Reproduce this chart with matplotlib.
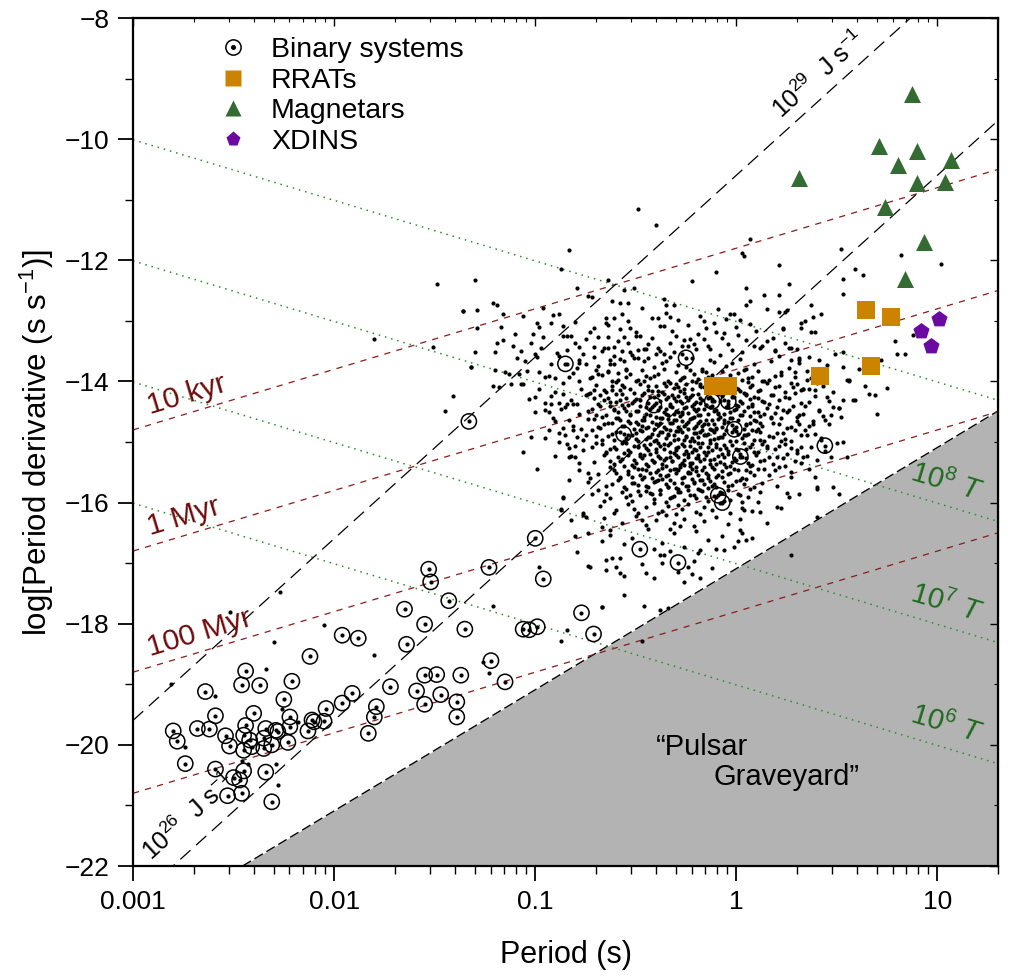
import numpy as np
import matplotlib
matplotlib.use('Agg')
import matplotlib.pyplot as plt
from matplotlib.legend_handler import HandlerTuple
from matplotlib.lines import Line2D

plt.rcParams['font.family'] = ['Liberation Sans', 'DejaVu Sans']
plt.rcParams['mathtext.fontset'] = 'custom'
plt.rcParams['mathtext.rm'] = 'Liberation Sans'
plt.rcParams['mathtext.it'] = 'Liberation Sans:italic'
plt.rcParams['mathtext.default'] = 'regular'

# ---------------- data (log10 P [s], log10 Pdot) ----------------
rrat_logP = [-0.116, -0.041, 0.418, 0.647, 0.670, 0.770]
rrat_logPdot = [-14.08, -14.08, -13.91, -12.82, -13.74, -12.94]

magnetar_logP = [0.871, 0.708, 0.900, 0.804, 1.068, 0.312, 0.900, 1.036, 0.740, 0.934, 0.841]
magnetar_logPdot = [-9.25, -10.11, -10.19, -10.42, -10.35, -10.64, -10.72, -10.71, -11.12, -11.69, -12.31]

xdins_logP = [1.008, 0.919, 0.970]
xdins_logPdot = [-12.97, -13.17, -13.41]

binaries = [
    (-1.96, -18.19), (-1.88, -18.24), (-2.12, -18.54), (-2.44, -18.78), (-2.46, -19.01),
    (-2.37, -19.02), (-2.21, -18.95), (-2.64, -19.12), (-2.25, -19.25), (-2.40, -19.48),
    (-2.59, -19.52), (-1.91, -19.15), (-1.96, -19.31), (-2.04, -19.40), (-1.79, -19.37),
    (-1.80, -19.54), (-2.22, -19.54), (-2.44, -19.68), (-2.34, -19.73), (-2.29, -19.76),
    (-2.22, -19.70), (-2.11, -19.59), (-2.10, -19.62), (-2.05, -19.61), (-2.80, -19.77),
    (-2.78, -19.94), (-2.68, -19.73), (-2.62, -19.74), (-2.54, -19.85), (-2.52, -20.02),
    (-2.45, -19.84), (-2.42, -19.92), (-2.41, -20.03), (-2.45, -20.09), (-2.35, -19.89),
    (-2.31, -20.00), (-2.35, -20.06), (-2.28, -19.78), (-2.23, -19.96), (-2.13, -19.77),
    (-1.83, -19.81), (-2.74, -20.31), (-2.59, -20.40), (-2.45, -20.43), (-2.50, -20.54),
    (-2.47, -20.58), (-2.34, -20.45), (-2.53, -20.84), (-2.46, -20.80), (-2.31, -20.94),
    (-1.33, -14.66), (-1.00, -16.59), (-1.53, -17.10), (-1.52, -17.31), (-1.23, -17.07),
    (-0.96, -17.26), (-1.43, -17.62), (-1.65, -17.76), (-1.55, -18.01), (-1.35, -18.09),
    (-1.64, -18.34), (-1.06, -18.09), (-1.03, -18.10), (-0.99, -18.05), (-0.77, -17.82),
    (-0.71, -18.17), (-1.22, -18.61), (-1.55, -18.85), (-1.49, -18.84), (-1.37, -18.85),
    (-1.15, -18.96), (-1.72, -19.04), (-1.59, -19.11), (-1.47, -19.17), (-1.55, -19.33),
    (-1.39, -19.29), (-1.39, -19.54),
    (-0.85, -13.71), (-0.25, -13.61), (-0.12, -14.33), (-0.04, -14.33), (-0.41, -14.39),
    (-0.56, -14.87), (-0.01, -14.79), (0.02, -15.24), (0.44, -15.06), (-0.09, -15.88),
    (-0.07, -16.00), (-0.48, -16.77), (-0.29, -16.99),
]

pulsars_outer = [
    (-0.49, -11.16), (-0.40, -11.41), (-0.83, -11.83), (-0.87, -12.14), (-1.30, -12.33), (-0.64, -12.33),
    (-0.10, -12.20), (-0.22, -12.35), (-0.79, -12.46), (-0.56, -12.49), (-0.51, -12.45), (-0.74, -12.59),
    (-0.72, -12.61), (-0.62, -12.67), (-0.58, -12.70), (-0.54, -12.70), (-0.36, -12.64), (-0.35, -12.74),
    (-0.31, -12.74), (-0.09, -12.80), (-0.03, -12.89), (-0.01, -12.89), (-1.36, -12.83), (-1.29, -12.82),
    (-1.21, -12.71), (-1.19, -12.73), (-1.16, -12.89), (-1.06, -12.92), (-0.96, -12.79), (-0.91, -12.91),
    (-0.88, -12.89), (-1.17, -13.10), (-1.29, -13.11), (-1.10, -13.22), (-1.16, -13.32), (-0.99, -13.04),
    (-0.98, -13.10), (-1.01, -13.22), (-0.96, -13.26), (-0.92, -13.04), (-0.86, -13.09), (-0.80, -13.02),
    (-0.86, -13.25), (-0.84, -13.25), (-0.82, -13.25), (-1.19, -13.37), (-1.11, -13.42), (-1.02, -13.36),
    (-1.30, -13.51), (-1.20, -13.52), (-1.07, -13.50), (-1.00, -13.55), (-0.99, -13.60), (-1.09, -13.61),
    (-1.32, -13.77), (-1.20, -13.81), (-1.15, -13.84), (-1.13, -13.88), (-1.08, -13.88), (-0.98, -13.84),
    (-0.95, -13.92), (-0.93, -13.91), (-1.04, -13.82), (-0.78, -13.70), (-0.79, -13.78), (-0.75, -13.71),
    (-0.71, -13.60), (-0.84, -13.48), (-0.78, -13.43), (-0.75, -13.30), (-0.71, -13.12), (-0.69, -13.26),
    (-0.65, -13.04), (-0.65, -12.96), (-0.64, -13.26), (-0.61, -12.96), (-0.54, -13.00), (-0.58, -13.14),
    (-0.53, -13.11), (-0.56, -13.27), (-0.50, -13.25), (-0.48, -13.25), (-0.42, -12.95), (-0.39, -12.95),
    (-0.35, -12.87), (-0.33, -12.93), (-0.36, -13.09), (-0.30, -13.25), (-0.26, -13.32), (-0.23, -13.30),
    (-0.19, -13.21), (-0.16, -13.00), (-0.15, -13.12), (-0.10, -13.19), (-0.05, -12.97), (-0.06, -13.20),
    (0.00, -13.10), (-0.64, -13.44), (-0.61, -13.43), (-0.54, -13.37), (-0.49, -13.48), (-0.46, -13.47),
    (-0.44, -13.39), (-0.39, -13.44), (-0.33, -13.37),
    (-1.00, -14.25), (-0.95, -14.36), (-0.90, -14.17), (-0.86, -14.20), (-0.74, -14.20), (-0.71, -14.14),
    (-0.68, -14.22), (-0.62, -14.14), (-0.58, -14.31), (-0.78, -14.00), (-0.73, -13.95), (-0.69, -13.87),
    (-0.64, -13.84), (-0.59, -13.86), (-0.55, -13.81), (-0.63, -13.65), (-0.56, -13.67), (-0.51, -13.62),
    (-1.41, -14.24), (-1.45, -14.49), (-1.21, -14.08), (-1.18, -14.10), (-1.07, -14.05), (-1.06, -14.05),
    (-1.00, -14.51), (-0.93, -14.51), (-0.92, -14.37), (-0.88, -14.35), (-0.84, -14.37), (-0.81, -14.37),
    (-1.02, -14.91), (-0.95, -14.94), (-0.93, -14.81), (-0.88, -15.00), (-0.86, -14.77), (-0.83, -14.64),
    (-0.81, -14.80), (-0.83, -15.10), (-1.06, -15.17), (-0.90, -15.23), (-0.82, -15.23), (-0.99, -15.45),
    (-0.86, -15.93), (-0.87, -16.12), (-0.76, -16.21), (-0.82, -16.29), (-0.79, -16.81), (-0.74, -16.51),
    (-0.63, -16.54), (-0.67, -16.64), (-0.98, -17.07), (-0.74, -17.05), (-0.65, -16.95), (-0.60, -17.06),
    (-0.65, -17.11), (-1.21, -17.71), (-0.84, -18.10), (-0.87, -18.28), (-0.67, -17.73), (-1.26, -18.63),
    (-1.23, -18.82),
    (-2.27, -17.48), (-2.52, -17.80), (-2.05, -18.02), (-2.30, -18.31), (-1.80, -18.52), (-2.34, -18.75),
    (-2.81, -19.00), (-2.59, -19.19), (-2.26, -19.40), (-2.18, -19.63), (-2.74, -20.03), (-2.46, -20.26),
    (-2.43, -20.32), (-2.29, -20.32), (-2.28, -20.67),
    (-1.49, -12.39), (-1.36, -12.84), (-1.80, -13.30), (-1.51, -13.43), (-1.32, -13.77),
    (0.52, -11.81), (0.82, -11.91), (1.02, -12.06), (0.21, -12.07), (0.03, -11.88), (0.04, -11.93),
    (0.07, -11.65), (0.26, -12.39), (0.59, -12.14), (0.63, -12.25), (0.53, -12.31), (0.53, -12.55),
    (0.14, -12.58), (0.21, -12.57), (0.05, -12.46), (0.07, -12.68), (0.05, -12.74), (0.37, -12.73),
    (0.42, -12.89), (0.15, -12.80), (0.21, -12.85), (0.25, -12.82), (0.32, -13.04), (0.39, -13.18),
    (0.32, -13.12), (0.23, -13.13), (0.07, -13.05), (0.79, -13.33), (0.88, -13.23), (0.80, -13.54),
    (0.84, -13.54), (0.72, -13.64), (0.64, -14.08), (0.66, -14.21), (0.69, -14.22), (0.75, -14.11),
    (0.70, -14.54), (0.59, -14.30), (0.56, -13.97), (0.56, -14.00), (0.61, -13.79), (0.53, -13.76),
    (0.53, -13.51), (0.49, -13.54), (0.45, -13.73), (0.53, -14.30), (0.51, -14.44), (0.47, -14.55),
    (0.36, -13.59), (0.27, -13.64), (0.31, -13.65), (0.19, -13.50), (0.22, -13.84), (0.33, -14.13),
    (0.35, -13.98), (0.45, -14.26), (0.27, -13.44), (0.09, -13.42), (0.15, -13.33),
    (0.48, -14.42), (0.52, -14.58), (0.55, -13.98), (0.50, -15.02), (0.47, -15.24), (0.55, -15.24),
    (0.34, -14.80), (0.39, -14.86), (0.30, -15.13), (0.32, -15.08), (0.41, -14.47), (0.43, -14.57),
    (0.30, -14.58), (0.25, -14.50), (0.28, -14.09), (0.32, -14.14), (0.39, -14.14), (0.19, -13.48),
    (0.26, -13.45), (0.31, -13.62), (0.34, -13.01), (0.37, -13.18), (0.38, -12.93), (0.24, -12.85),
    (0.23, -13.12), (0.19, -15.46), (0.27, -15.57), (0.39, -15.57), (0.32, -15.35), (0.40, -15.30),
    (0.48, -15.74),
    (-0.73, -17.06), (-0.62, -16.92), (-0.58, -17.17), (-0.56, -17.22), (-0.45, -17.16), (-0.56, -17.53),
    (-0.26, -17.31), (-0.22, -17.18), (-0.18, -17.25), (0.05, -16.61), (0.08, -16.58), (0.27, -16.87),
    (0.40, -16.23), (0.51, -15.86), (0.40, -15.74), (0.40, -15.77), (0.31, -15.86), (0.25, -15.85),
    (0.26, -15.90), (0.53, -15.00), (0.51, -14.44), (0.58, -14.31), (-0.86, -15.90), (-0.76, -16.18),
    (-0.75, -16.23), (-0.80, -16.56), (-0.67, -16.40), (-0.61, -16.18), (-0.83, -15.63), (-0.87, -16.10),
    (-0.83, -15.24), (-0.37, -17.00), (-0.38, -16.87), (-0.33, -16.80), (-0.24, -17.06), (-0.19, -16.84),
    (-0.10, -16.76), (-0.06, -16.78), (-0.01, -16.73), (0.02, -16.45), (0.03, -16.51), (0.15, -16.34),
    (0.20, -16.07), (0.22, -16.09), (0.12, -16.15), (0.11, -15.99), (0.04, -16.12),
    (-0.46, -17.71), (-0.38, -17.77), (-0.34, -17.74), (-0.47, -18.28), (-0.67, -17.72),
    (-1.05, -13.66), (-0.97, -13.45), (-0.92, -13.71), (-0.88, -13.58), (-0.83, -13.93), (-0.80, -13.37),
    (-0.76, -13.55), (-0.73, -13.18), (-0.70, -13.81), (-0.67, -13.50), (-0.64, -13.07), (-0.61, -13.72),
    (-0.59, -13.33), (-0.57, -12.88), (-0.53, -13.52), (-0.50, -13.19), (-0.47, -12.79), (-0.44, -13.62),
    (-0.42, -13.28), (-0.38, -13.08), (-0.36, -13.55), (-0.32, -13.16), (-0.29, -12.98), (-0.27, -13.42),
    (-0.24, -13.07), (-0.21, -13.39), (-0.18, -12.92), (-0.16, -13.30), (-0.13, -13.47), (-0.11, -13.04),
    (-0.07, -13.29), (-0.04, -13.38), (0.01, -13.24), (0.05, -13.31), (0.10, -13.17), (0.13, -13.41),
    (0.18, -13.28), (0.24, -13.36), (0.30, -13.47), (0.02, -12.98), (-1.12, -14.05), (-1.03, -14.29),
    (-0.98, -14.12), (-0.91, -14.60), (-0.87, -14.46), (-0.85, -14.88), (-0.80, -15.07), (-0.78, -15.35),
    (-0.76, -14.96), (-0.74, -15.52), (-0.69, -15.79), (-0.65, -15.86),
    (0.29, -13.92), (0.34, -14.40), (0.38, -14.65), (0.42, -14.96), (0.27, -15.10), (0.33, -15.25),
    (0.24, -15.40), (0.36, -15.44), (0.44, -15.15), (0.31, -14.71), (0.46, -14.70), (0.40, -14.03),
    (0.48, -14.18), (0.35, -13.82), (0.41, -13.65),
]

pulsars_core = [
    (-0.71, -13.43), (-0.52, -13.57), (-0.38, -13.49), (-0.27, -13.55), (-0.14, -13.41), (0.03, -13.52),
    (-0.61, -13.58), (-0.45, -13.46), (-0.33, -13.59), (-0.20, -13.47), (-0.08, -13.56), (0.12, -13.44),
    (-0.89, -13.53), (-0.57, -13.50), (-0.24, -13.42), (0.21, -13.58), (-0.40, -13.54), (-0.02, -13.48),
    (-0.66, -13.45), (-0.31, -13.51),
    (-0.78, -13.64), (-0.63, -13.71), (-0.49, -13.62), (-0.41, -13.77), (-0.35, -13.66), (-0.29, -13.73),
    (-0.22, -13.61), (-0.17, -13.79), (-0.11, -13.68), (-0.05, -13.75), (0.02, -13.63), (0.09, -13.72),
    (0.17, -13.66), (0.26, -13.78), (-0.55, -13.79), (-0.69, -13.75), (-0.37, -13.69), (-0.25, -13.76),
    (-0.13, -13.64), (0.05, -13.79), (-0.46, -13.67), (-0.58, -13.63), (-0.84, -13.72), (0.31, -13.69),
    (-0.02, -13.70),
    (-0.81, -13.86), (-0.72, -13.93), (-0.64, -13.82), (-0.59, -13.97), (-0.53, -13.88), (-0.47, -13.81),
    (-0.43, -13.95), (-0.39, -13.87), (-0.34, -13.99), (-0.30, -13.84), (-0.26, -13.92), (-0.23, -13.81),
    (-0.19, -13.96), (-0.15, -13.85), (-0.12, -13.90), (-0.07, -13.83), (-0.04, -13.98), (0.01, -13.86),
    (0.06, -13.94), (0.11, -13.82), (0.16, -13.97), (0.22, -13.89), (0.29, -13.84), (0.37, -13.95),
    (-0.50, -13.99), (-0.36, -13.80), (-0.28, -13.97), (-0.21, -13.88), (-0.09, -13.96), (0.04, -13.81),
    (-0.67, -13.90), (-0.45, -13.91), (-0.17, -13.83), (0.13, -13.99), (-0.90, -13.95),
    (-0.86, -14.03), (-0.77, -14.12), (-0.70, -14.06), (-0.65, -14.17), (-0.60, -14.01), (-0.56, -14.10),
    (-0.51, -14.19), (-0.48, -14.04), (-0.44, -14.14), (-0.40, -14.08), (-0.37, -14.18), (-0.33, -14.02),
    (-0.31, -14.11), (-0.28, -14.16), (-0.25, -14.05), (-0.22, -14.13), (-0.20, -14.01), (-0.16, -14.09),
    (-0.13, -14.18), (-0.10, -14.07), (-0.06, -14.15), (-0.03, -14.03), (0.00, -14.11), (0.04, -14.19),
    (0.08, -14.06), (0.12, -14.14), (0.15, -14.02), (0.19, -14.10), (0.24, -14.17), (0.30, -14.05),
    (0.36, -14.12), (0.43, -14.08), (-0.58, -14.14), (-0.46, -14.00), (-0.35, -14.07), (-0.26, -14.19),
    (-0.18, -14.04), (-0.08, -14.10), (0.02, -14.16), (-0.62, -14.08), (-0.42, -14.16), (-0.29, -14.09),
    (-0.11, -14.12), (0.06, -14.01), (-0.73, -14.19),
    (-0.92, -14.24), (-0.82, -14.31), (-0.75, -14.22), (-0.69, -14.37), (-0.64, -14.27), (-0.60, -14.34),
    (-0.57, -14.21), (-0.54, -14.39), (-0.50, -14.29), (-0.47, -14.23), (-0.44, -14.35), (-0.41, -14.26),
    (-0.38, -14.32), (-0.36, -14.21), (-0.33, -14.38), (-0.31, -14.28), (-0.29, -14.24), (-0.27, -14.36),
    (-0.24, -14.30), (-0.22, -14.22), (-0.20, -14.34), (-0.18, -14.27), (-0.15, -14.39), (-0.13, -14.25),
    (-0.11, -14.33), (-0.09, -14.21), (-0.06, -14.30), (-0.04, -14.37), (-0.01, -14.26), (0.02, -14.32),
    (0.05, -14.23), (0.08, -14.38), (0.11, -14.28), (0.14, -14.34), (0.18, -14.22), (0.21, -14.31),
    (0.26, -14.27), (0.32, -14.36), (0.39, -14.24), (0.46, -14.33), (-0.66, -14.30), (-0.52, -14.36),
    (-0.39, -14.22), (-0.30, -14.33), (-0.25, -14.26), (-0.17, -14.31), (-0.07, -14.24), (0.00, -14.39),
    (0.09, -14.26), (-0.48, -14.31), (-0.34, -14.25), (-0.21, -14.38), (-0.12, -14.29), (0.16, -14.37),
    (-0.79, -14.38),
    (-0.95, -14.47), (-0.85, -14.42), (-0.78, -14.53), (-0.72, -14.45), (-0.67, -14.58), (-0.63, -14.41),
    (-0.59, -14.51), (-0.56, -14.44), (-0.53, -14.56), (-0.50, -14.48), (-0.48, -14.40), (-0.45, -14.53),
    (-0.43, -14.46), (-0.40, -14.59), (-0.38, -14.43), (-0.36, -14.50), (-0.34, -14.55), (-0.32, -14.42),
    (-0.30, -14.48), (-0.28, -14.57), (-0.26, -14.44), (-0.24, -14.52), (-0.22, -14.41), (-0.20, -14.49),
    (-0.18, -14.56), (-0.16, -14.45), (-0.14, -14.53), (-0.12, -14.40), (-0.10, -14.47), (-0.08, -14.58),
    (-0.05, -14.43), (-0.03, -14.51), (0.00, -14.46), (0.03, -14.55), (0.06, -14.42), (0.09, -14.50),
    (0.12, -14.57), (0.15, -14.44), (0.19, -14.52), (0.23, -14.47), (0.28, -14.41), (0.33, -14.54),
    (0.41, -14.49), (-0.61, -14.47), (-0.46, -14.59), (-0.35, -14.45), (-0.27, -14.50), (-0.21, -14.58),
    (-0.13, -14.43), (-0.06, -14.54), (0.01, -14.41), (0.07, -14.57), (-0.55, -14.49), (-0.42, -14.43),
    (-0.31, -14.53), (-0.19, -14.46), (-0.09, -14.52), (0.04, -14.48), (0.17, -14.59), (-0.70, -14.55),
    (-0.90, -14.66), (-0.81, -14.73), (-0.74, -14.62), (-0.68, -14.77), (-0.64, -14.68), (-0.60, -14.61),
    (-0.57, -14.74), (-0.54, -14.65), (-0.51, -14.79), (-0.49, -14.70), (-0.46, -14.63), (-0.44, -14.76),
    (-0.42, -14.67), (-0.39, -14.72), (-0.37, -14.61), (-0.35, -14.78), (-0.33, -14.69), (-0.31, -14.64),
    (-0.29, -14.75), (-0.27, -14.66), (-0.25, -14.71), (-0.23, -14.62), (-0.21, -14.77), (-0.19, -14.68),
    (-0.17, -14.73), (-0.15, -14.64), (-0.13, -14.79), (-0.11, -14.70), (-0.09, -14.62), (-0.07, -14.75),
    (-0.04, -14.67), (-0.02, -14.72), (0.01, -14.63), (0.04, -14.78), (0.07, -14.69), (0.10, -14.65),
    (0.13, -14.74), (0.17, -14.61), (0.21, -14.70), (0.25, -14.77), (0.30, -14.66), (0.36, -14.73),
    (0.44, -14.63), (-0.66, -14.71), (-0.53, -14.69), (-0.41, -14.79), (-0.34, -14.62), (-0.26, -14.74),
    (-0.18, -14.65), (-0.10, -14.78), (-0.03, -14.61), (0.05, -14.72), (-0.58, -14.64), (-0.47, -14.74),
    (-0.38, -14.68), (-0.24, -14.79), (-0.14, -14.70), (-0.06, -14.64), (0.12, -14.68), (-0.77, -14.79),
    (-0.88, -14.85), (-0.79, -14.92), (-0.72, -14.81), (-0.67, -14.96), (-0.62, -14.87), (-0.58, -14.83),
    (-0.55, -14.94), (-0.52, -14.88), (-0.49, -14.99), (-0.47, -14.82), (-0.44, -14.91), (-0.42, -14.86),
    (-0.40, -14.97), (-0.37, -14.84), (-0.35, -14.93), (-0.33, -14.80), (-0.31, -14.89), (-0.29, -14.95),
    (-0.27, -14.83), (-0.25, -14.90), (-0.23, -14.98), (-0.21, -14.85), (-0.19, -14.92), (-0.17, -14.81),
    (-0.15, -14.88), (-0.13, -14.96), (-0.11, -14.84), (-0.08, -14.91), (-0.06, -14.87), (-0.03, -14.99),
    (0.00, -14.82), (0.03, -14.93), (0.06, -14.86), (0.09, -14.97), (0.12, -14.83), (0.16, -14.90),
    (0.20, -14.85), (0.24, -14.95), (0.29, -14.81), (0.35, -14.89), (0.42, -14.94), (-0.64, -14.90),
    (-0.50, -14.85), (-0.39, -14.89), (-0.30, -14.82), (-0.22, -14.94), (-0.14, -14.86), (-0.05, -14.80),
    (0.04, -14.89), (0.14, -14.98), (-0.56, -14.98), (-0.45, -14.95), (-0.34, -14.87), (-0.26, -14.97),
    (-0.18, -14.83), (-0.09, -14.94), (0.01, -14.86), (0.08, -14.81), (-0.75, -14.88), (0.22, -14.99),
    (-0.84, -15.04), (-0.76, -15.13), (-0.70, -15.02), (-0.65, -15.17), (-0.61, -15.08), (-0.57, -15.01),
    (-0.54, -15.14), (-0.51, -15.06), (-0.48, -15.19), (-0.45, -15.10), (-0.43, -15.03), (-0.40, -15.16),
    (-0.38, -15.07), (-0.36, -15.12), (-0.33, -15.01), (-0.31, -15.18), (-0.29, -15.09), (-0.27, -15.04),
    (-0.25, -15.15), (-0.23, -15.06), (-0.21, -15.11), (-0.19, -15.02), (-0.16, -15.17), (-0.14, -15.08),
    (-0.12, -15.13), (-0.10, -15.04), (-0.07, -15.19), (-0.05, -15.10), (-0.02, -15.05), (0.01, -15.14),
    (0.04, -15.02), (0.07, -15.09), (0.11, -15.16), (0.15, -15.06), (0.19, -15.12), (0.24, -15.03),
    (0.30, -15.18), (0.37, -15.08), (-0.63, -15.11), (-0.49, -15.07), (-0.39, -15.01), (-0.30, -15.13),
    (-0.22, -15.16), (-0.13, -15.01), (-0.04, -15.15), (0.05, -15.11), (-0.56, -15.18), (-0.44, -15.14),
    (-0.34, -15.05), (-0.18, -15.09), (-0.08, -15.12), (0.02, -15.19), (0.13, -15.03), (-0.72, -15.08),
    (-0.26, -15.19),
    (-0.80, -15.25), (-0.71, -15.33), (-0.66, -15.22), (-0.61, -15.37), (-0.57, -15.28), (-0.54, -15.21),
    (-0.50, -15.34), (-0.47, -15.26), (-0.44, -15.39), (-0.42, -15.30), (-0.39, -15.23), (-0.37, -15.36),
    (-0.35, -15.27), (-0.32, -15.32), (-0.30, -15.21), (-0.28, -15.38), (-0.26, -15.29), (-0.24, -15.24),
    (-0.22, -15.35), (-0.20, -15.26), (-0.18, -15.31), (-0.15, -15.22), (-0.13, -15.37), (-0.11, -15.28),
    (-0.08, -15.33), (-0.06, -15.24), (-0.03, -15.39), (0.00, -15.30), (0.03, -15.25), (0.06, -15.34),
    (0.10, -15.22), (0.14, -15.29), (0.18, -15.36), (0.23, -15.26), (0.29, -15.32), (0.35, -15.23),
    (-0.58, -15.31), (-0.46, -15.22), (-0.36, -15.30), (-0.27, -15.34), (-0.19, -15.21), (-0.10, -15.36),
    (-0.01, -15.27), (0.08, -15.38), (-0.52, -15.38), (-0.41, -15.33), (-0.33, -15.25), (-0.23, -15.39),
    (-0.16, -15.28), (0.16, -15.24),
    (-0.78, -15.46), (-0.69, -15.53), (-0.63, -15.42), (-0.58, -15.57), (-0.54, -15.48), (-0.51, -15.41),
    (-0.48, -15.54), (-0.45, -15.46), (-0.42, -15.59), (-0.40, -15.50), (-0.37, -15.43), (-0.35, -15.56),
    (-0.33, -15.47), (-0.30, -15.52), (-0.28, -15.41), (-0.26, -15.58), (-0.24, -15.49), (-0.22, -15.44),
    (-0.19, -15.55), (-0.17, -15.46), (-0.15, -15.51), (-0.12, -15.42), (-0.10, -15.57), (-0.07, -15.48),
    (-0.04, -15.53), (-0.01, -15.44), (0.03, -15.59), (0.07, -15.50), (0.11, -15.45), (0.16, -15.54),
    (0.21, -15.42), (0.27, -15.49), (-0.60, -15.51), (-0.47, -15.45), (-0.38, -15.55), (-0.31, -15.44),
    (-0.23, -15.52), (-0.14, -15.59), (-0.05, -15.41), (0.05, -15.47), (-0.52, -15.58), (-0.29, -15.47),
    (-0.20, -15.41), (-0.09, -15.54), (-0.73, -15.59),
    (-0.74, -15.66), (-0.65, -15.73), (-0.59, -15.62), (-0.55, -15.77), (-0.51, -15.68), (-0.47, -15.61),
    (-0.44, -15.74), (-0.41, -15.66), (-0.38, -15.79), (-0.35, -15.70), (-0.33, -15.63), (-0.30, -15.76),
    (-0.27, -15.67), (-0.25, -15.72), (-0.22, -15.61), (-0.19, -15.78), (-0.16, -15.69), (-0.13, -15.64),
    (-0.10, -15.75), (-0.06, -15.66), (-0.02, -15.71), (0.02, -15.62), (0.07, -15.77), (0.13, -15.68),
    (0.20, -15.73), (-0.49, -15.71), (-0.39, -15.62), (-0.29, -15.78), (-0.21, -15.67), (-0.12, -15.73),
    (-0.04, -15.79), (-0.62, -15.69), (-0.34, -15.74), (-0.18, -15.63), (0.04, -15.70),
    (-0.72, -15.86), (-0.63, -15.93), (-0.57, -15.82), (-0.52, -15.97), (-0.48, -15.88), (-0.45, -15.81),
    (-0.41, -15.94), (-0.38, -15.86), (-0.35, -15.99), (-0.32, -15.90), (-0.29, -15.83), (-0.26, -15.96),
    (-0.23, -15.87), (-0.20, -15.92), (-0.17, -15.81), (-0.14, -15.98), (-0.11, -15.89), (-0.07, -15.84),
    (-0.03, -15.95), (0.01, -15.86), (0.06, -15.91), (0.12, -15.82), (-0.55, -15.91), (-0.43, -15.85),
    (-0.33, -15.93), (-0.24, -15.80), (-0.15, -15.90), (-0.06, -15.97), (-0.66, -15.98), (0.03, -15.99),
    (-0.68, -16.05), (-0.60, -16.13), (-0.54, -16.02), (-0.49, -16.17), (-0.45, -16.08), (-0.41, -16.01),
    (-0.37, -16.14), (-0.34, -16.06), (-0.30, -16.19), (-0.27, -16.10), (-0.24, -16.03), (-0.20, -16.16),
    (-0.16, -16.07), (-0.12, -16.12), (-0.08, -16.01), (-0.03, -16.18), (0.03, -16.09), (-0.51, -16.11),
    (-0.39, -16.18), (-0.29, -16.04), (-0.18, -16.19), (0.08, -16.14),
    (-0.66, -16.26), (-0.57, -16.33), (-0.50, -16.22), (-0.45, -16.37), (-0.40, -16.28), (-0.35, -16.21),
    (-0.31, -16.34), (-0.26, -16.27), (-0.21, -16.39), (-0.16, -16.30), (-0.10, -16.23), (-0.04, -16.36),
    (-0.47, -16.29), (-0.28, -16.38), (0.02, -16.27),
    (-0.63, -16.46), (-0.52, -16.58), (-0.44, -16.43), (-0.37, -16.66), (-0.31, -16.51), (-0.26, -16.74),
    (-0.20, -16.47), (-0.14, -16.62), (-0.07, -16.55), (-0.41, -16.77), (-0.56, -16.69), (-0.18, -16.79),
    (-0.33, -16.44), (0.01, -16.64),
    (-0.58, -16.91), (-0.47, -17.02), (-0.36, -16.86), (-0.29, -17.15), (-0.21, -16.97), (-0.12, -17.08),
    (-0.41, -17.24),
]

pulsars_center = [
    (-0.55, -13.93), (-0.41, -13.91), (-0.27, -13.94), (-0.14, -13.92), (-0.03, -13.90), (0.08, -13.93),
    (0.19, -13.91), (-0.62, -14.00), (-0.49, -13.98), (-0.36, -14.02), (-0.22, -13.99), (-0.09, -14.01),
    (0.03, -13.98), (0.14, -14.00), (0.27, -14.02), (-0.57, -14.06), (-0.44, -14.08), (-0.30, -14.05),
    (-0.18, -14.07), (-0.05, -14.06), (0.07, -14.09), (0.21, -14.07), (-0.66, -14.14), (-0.53, -14.12),
    (-0.39, -14.15), (-0.26, -14.13), (-0.12, -14.16), (0.01, -14.13), (0.11, -14.15), (0.33, -14.13),
    (-0.60, -14.21), (-0.46, -14.19), (-0.32, -14.22), (-0.19, -14.20), (-0.07, -14.23), (0.05, -14.20),
    (0.17, -14.22), (0.29, -14.19), (-0.71, -14.27), (-0.55, -14.28), (-0.43, -14.25), (-0.35, -14.29),
    (-0.23, -14.26), (-0.14, -14.28), (-0.02, -14.25), (0.07, -14.29), (0.24, -14.26), (-0.63, -14.34),
    (-0.51, -14.32), (-0.40, -14.35), (-0.28, -14.33), (-0.18, -14.36), (-0.08, -14.33), (0.03, -14.35),
    (0.13, -14.32), (0.36, -14.34), (-0.68, -14.41), (-0.57, -14.39), (-0.45, -14.42), (-0.33, -14.40),
    (-0.25, -14.43), (-0.15, -14.39), (-0.04, -14.42), (0.08, -14.40), (0.20, -14.43), (-0.74, -14.48),
    (-0.61, -14.46), (-0.49, -14.49), (-0.39, -14.47), (-0.29, -14.50), (-0.21, -14.46), (-0.11, -14.49),
    (-0.01, -14.47), (0.11, -14.50), (0.26, -14.47), (-0.65, -14.55), (-0.53, -14.53), (-0.43, -14.56),
    (-0.35, -14.54), (-0.27, -14.53), (-0.19, -14.55), (-0.09, -14.54), (0.02, -14.56), (0.14, -14.53),
    (0.31, -14.56), (-0.71, -14.62), (-0.59, -14.60), (-0.47, -14.63), (-0.38, -14.61), (-0.30, -14.64),
    (-0.22, -14.60), (-0.12, -14.63), (-0.02, -14.61), (0.09, -14.64), (0.22, -14.61), (-0.62, -14.69),
    (-0.50, -14.67), (-0.40, -14.70), (-0.32, -14.68), (-0.24, -14.67), (-0.16, -14.70), (-0.06, -14.68),
    (0.05, -14.71), (0.18, -14.68), (0.38, -14.70), (-0.69, -14.76), (-0.56, -14.74), (-0.45, -14.77),
    (-0.36, -14.75), (-0.28, -14.78), (-0.20, -14.74), (-0.10, -14.77), (0.00, -14.75), (0.11, -14.78),
    (0.27, -14.75), (-0.60, -14.83), (-0.48, -14.81), (-0.38, -14.84), (-0.29, -14.82), (-0.20, -14.85),
    (-0.12, -14.81), (-0.02, -14.84), (0.10, -14.82), (0.23, -14.85), (-0.70, -14.90), (-0.54, -14.88),
    (-0.43, -14.91), (-0.34, -14.89), (-0.25, -14.92), (-0.16, -14.88), (-0.07, -14.91), (0.05, -14.89),
    (0.18, -14.92), (0.32, -14.89), (-0.61, -14.97), (-0.50, -14.95), (-0.41, -14.98), (-0.31, -14.96),
    (-0.21, -14.99), (-0.11, -14.95), (0.00, -14.98), (0.12, -14.96), (0.27, -14.99), (-0.67, -15.04),
    (-0.55, -15.02), (-0.46, -15.05), (-0.36, -15.03), (-0.26, -15.06), (-0.17, -15.02), (-0.06, -15.05),
    (0.08, -15.03), (0.21, -15.06), (-0.60, -15.11), (-0.49, -15.09), (-0.40, -15.12), (-0.30, -15.10),
    (-0.20, -15.13), (-0.10, -15.09), (0.00, -15.12), (0.15, -15.10), (-0.65, -15.18), (-0.53, -15.16),
    (-0.43, -15.19), (-0.33, -15.17), (-0.24, -15.20), (-0.14, -15.16), (-0.04, -15.19), (0.09, -15.17),
    (0.25, -15.20), (-0.59, -15.25), (-0.48, -15.23), (-0.38, -15.26), (-0.29, -15.24), (-0.19, -15.27),
    (-0.09, -15.23), (0.05, -15.26), (0.20, -15.24), (-0.63, -15.32), (-0.51, -15.30), (-0.41, -15.33),
    (-0.32, -15.31), (-0.23, -15.34), (-0.13, -15.30), (-0.02, -15.33), (0.12, -15.31), (-0.56, -15.39),
    (-0.45, -15.37), (-0.35, -15.40), (-0.26, -15.38), (-0.16, -15.41), (-0.06, -15.37), (0.07, -15.40),
    (-0.61, -15.46), (-0.49, -15.44), (-0.39, -15.47), (-0.30, -15.45), (-0.20, -15.48), (-0.11, -15.44),
    (0.01, -15.47), (0.14, -15.45), (-0.54, -15.53), (-0.43, -15.51), (-0.34, -15.54), (-0.24, -15.52),
    (-0.14, -15.55), (-0.03, -15.51), (0.09, -15.54), (-0.58, -15.60), (-0.46, -15.58), (-0.37, -15.61),
    (-0.27, -15.59), (-0.17, -15.62), (-0.07, -15.58), (0.05, -15.61), (-0.52, -15.67), (-0.40, -15.65),
    (-0.31, -15.68), (-0.21, -15.66), (-0.11, -15.69), (0.00, -15.65), (-0.56, -15.74), (-0.45, -15.72),
    (-0.34, -15.75), (-0.24, -15.73), (-0.14, -15.76), (-0.04, -15.72), (0.09, -15.75), (-0.49, -15.81),
    (-0.38, -15.79), (-0.28, -15.82), (-0.18, -15.80), (-0.08, -15.83), (-0.53, -15.88), (-0.42, -15.86),
    (-0.31, -15.89), (-0.21, -15.87), (-0.10, -15.90), (0.02, -15.88),
]

age_years = [1e4, 1e6, 1e8, 1e10]
age_labels = ['10 kyr', '1 Myr', '100 Myr', None]
field_tesla = [1e9, 1e8, 1e7, 1e6]
field_labels = [None, r'$10^{8}$ $\it{T}$', r'$10^{7}$ $\it{T}$', r'$10^{6}$ $\it{T}$']
edot_watts = [1e26, 1e29]
edot_labels = [r'$10^{26}$  J s$^{-1}$', r'$10^{29}$  J s$^{-1}$']
death_slope = 2.0
death_offset = -17.09

# ---------------- figure ----------------
W, H = 1011, 976
fig = plt.figure(figsize=(W / 100, H / 100), dpi=100)
ax = fig.add_axes([133 / W, 1 - 866 / H, 865 / W, 848 / H])
ax.set_xscale('log')
XMIN, XMAX, YMIN, YMAX = 0.001, 20, -22, -8
ax.set_xlim(XMIN, XMAX)
ax.set_ylim(YMIN, YMAX)

Pline = np.array([XMIN, XMAX])
lP = np.log10(Pline)

# graveyard
p0 = 10 ** ((YMIN - death_offset) / death_slope)
Pg = np.array([p0, XMAX])
ax.fill_between(Pg, YMIN, death_slope * np.log10(Pg) + death_offset, color='#b3b3b3', lw=0, zorder=0)
ax.plot(Pg, death_slope * np.log10(Pg) + death_offset, color='black', lw=1.0, ls=(0, (7, 3)), zorder=1)

YEAR = 3.156e7
age_col = '#8b1a1a'
for tau in age_years:
    ax.plot(Pline, lP - np.log10(2 * tau * YEAR), color=age_col, lw=0.9, ls=(0, (5, 5)), zorder=1)

B_col = '#2e8b2e'
for B in field_tesla:
    ax.plot(Pline, 2 * np.log10(B / 3.2e15) - lP, color=B_col, lw=1.1, ls=(0, (1, 3.2)), zorder=1)

I_NS = 1e38
for E in edot_watts:
    ax.plot(Pline, np.log10(E / (4 * np.pi ** 2 * I_NS)) + 3 * lP, color='black', lw=0.9,
            ls=(0, (11, 6)), zorder=1)

# pulsars
allp = pulsars_core + pulsars_center + pulsars_outer
px = 10 ** np.array([a for a, b in allp])
py = np.array([b for a, b in allp])
ax.scatter(px, py, s=9, color='black', lw=0, zorder=3)

bx = 10 ** np.array([a for a, b in binaries])
by = np.array([b for a, b in binaries])
ax.scatter(bx, by, s=9, color='black', lw=0, zorder=3)
ax.scatter(bx, by, s=120, facecolors='none', edgecolors='black', lw=1.1, zorder=3)

ax.scatter(10 ** np.array(rrat_logP), rrat_logPdot, marker='s', s=165, color='#cc8400', lw=0, zorder=4)
ax.scatter(10 ** np.array(magnetar_logP), magnetar_logPdot, marker='^', s=150, color='#336b33', lw=0, zorder=4)
ax.scatter(10 ** np.array(xdins_logP), xdins_logPdot, marker='p', s=150, color='#6a0a9e', lw=0, zorder=4)

# line labels
lab_fs = 21.5
age_text_col = '#6e0a0a'
rot_age = np.degrees(np.arctan((60.57 / 201)))
for tau, lab in zip(age_years, age_labels):
    if lab is None:
        continue
    P0 = 0.00122
    y0 = np.log10(P0) - np.log10(2 * tau * YEAR) + 0.17
    ax.text(P0, y0, lab, color=age_text_col, fontsize=lab_fs, rotation=rot_age,
            rotation_mode='anchor', ha='left', va='baseline', zorder=5)

B_text_col = '#1f6b1f'
for B, lab in zip(field_tesla, field_labels):
    if lab is None:
        continue
    P0 = 7.2
    y0 = 2 * np.log10(B / 3.2e15) - np.log10(P0) + 0.24
    ax.text(P0, y0, lab, color=B_text_col, fontsize=21, rotation=-rot_age,
            rotation_mode='anchor', ha='left', va='baseline', zorder=5)

rot_E = np.degrees(np.arctan(3 * 60.57 / 201))
ax.text(10 ** -2.905, -21.92, edot_labels[0], fontsize=18, rotation=rot_E,
        rotation_mode='anchor', ha='left', va='baseline', zorder=5)
ax.text(10 ** 0.225, -9.68, edot_labels[1], fontsize=18, rotation=rot_E,
        rotation_mode='anchor', ha='left', va='baseline', zorder=5)

ax.text(10 ** -0.398, -20.17, '\u201cPulsar', fontsize=21, ha='left', va='baseline', zorder=5)
ax.text(10 ** -0.114, -20.66, 'Graveyard\u201d', fontsize=21, ha='left', va='baseline', zorder=5)

# legend
h_bin = (Line2D([], [], ls='none', marker='o', ms=11, mfc='none', mec='black', mew=1.1),
         Line2D([], [], ls='none', marker='o', ms=2.6, mfc='black', mec='black'))
h_rrat = Line2D([], [], ls='none', marker='s', ms=11.5, mfc='#cc8400', mec='none')
h_mag = Line2D([], [], ls='none', marker='^', ms=11, mfc='#336b33', mec='none')
h_xd = Line2D([], [], ls='none', marker='p', ms=11, mfc='#6a0a9e', mec='none')
ax.legend([h_bin, h_rrat, h_mag, h_xd], ['Binary systems', 'RRATs', 'Magnetars', 'XDINS'],
          handler_map={tuple: HandlerTuple(ndivide=1, pad=0)}, loc='upper left',
          bbox_to_anchor=((219 - 133) / 865, 1 - (37 - 18) / 848), borderaxespad=0, borderpad=0,
          frameon=False, fontsize=20.5, handlelength=1.0, handletextpad=0.83, labelspacing=0.16)

# axes styling
for s in ax.spines.values():
    s.set_linewidth(1.6)
ax.set_yticks(np.arange(-22, -7, 2))
ax.set_yticks(np.arange(-22, -7, 1), minor=True)
ax.set_yticklabels(['\u2212' + str(-v) for v in range(-22, -7, 2)])
ax.set_xticks([0.001, 0.01, 0.1, 1, 10])
ax.set_xticklabels(['0.001', '0.01', '0.1', '1', '10'])
ax.tick_params(which='major', direction='out', length=11, width=1.3, labelsize=19, pad=6)
ax.tick_params(which='minor', direction='out', length=6, width=1.0)
ax.tick_params(which='both', top=False, right=False)
sec = ax.secondary_xaxis('top')
sec.set_xticks([0.001, 0.01, 0.1, 1, 10])
sec.tick_params(which='major', direction='in', length=6, width=1.0, labeltop=False)
sec.tick_params(which='minor', direction='in', length=3, width=0.8)
secy = ax.secondary_yaxis('right')
secy.set_yticks(np.arange(-22, -7, 2))
secy.set_yticks(np.arange(-22, -7, 1), minor=True)
secy.tick_params(which='major', direction='in', length=6, width=1.0, labelright=False)
secy.tick_params(which='minor', direction='in', length=3, width=0.8)

ax.set_xlabel('Period (s)', fontsize=22, labelpad=19)
ax.set_ylabel(r'log[Period derivative (s s$^{-1}$)]', fontsize=22.5, labelpad=6)

fig.savefig('out.png', dpi=100)
